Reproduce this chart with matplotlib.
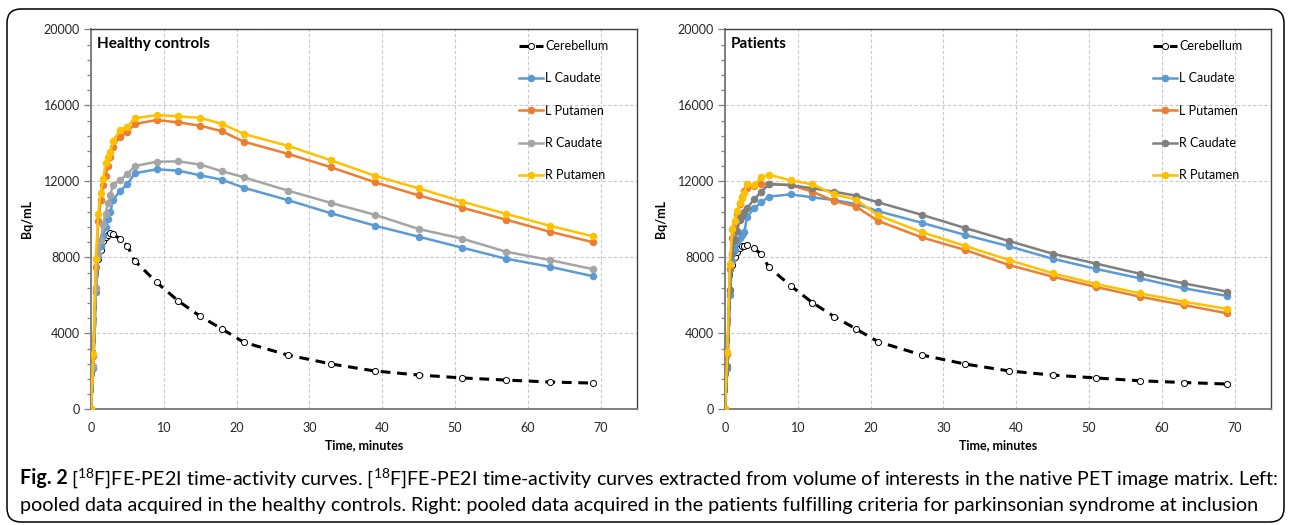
import matplotlib
matplotlib.use("Agg")
import matplotlib.pyplot as plt
from matplotlib.patches import FancyBboxPatch
from matplotlib.transforms import IdentityTransform
from matplotlib.ticker import MultipleLocator

plt.rcParams['font.family'] = ['Lato', 'DejaVu Sans']
plt.rcParams['mathtext.default'] = 'regular'

# === data: frame end times (minutes) and mean activity (Bq/mL) ===
time_min = [0, 0.33, 0.67, 1, 1.33, 1.67, 2, 2.33, 2.67, 3, 4, 5, 6,
            9, 12, 15, 18, 21, 27, 33, 39, 45, 51, 57, 63, 69]

regions = ["Cerebellum", "L Caudate", "L Putamen", "R Caudate", "R Putamen"]

# healthy controls
hc_cerebellum = [0, 2200, 6400, 7900, 8400, 8850, 9080, 9200, 9260, 9230, 8960, 8610, 7820,
                 6685, 5700, 4895, 4225, 3525, 2860, 2385, 2015, 1805, 1650, 1540, 1435, 1380]
hc_l_caudate = [0, 2200, 6200, 8000, 8600, 9100, 9600, 10000, 10400, 11000, 11500, 11850, 12420,
                12630, 12560, 12315, 12085, 11660, 11015, 10315, 9665, 9085, 8505, 7925, 7505, 7000]
hc_l_putamen = [0, 2800, 7500, 9900, 11000, 11800, 12300, 12820, 13290, 13820, 14350, 14580, 15015,
                15225, 15100, 14930, 14630, 14085, 13450, 12735, 11950, 11260, 10610, 9980, 9350, 8790]
hc_r_caudate = [0, 2300, 6400, 8200, 8900, 9700, 10300, 10840, 11280, 11800, 12070, 12380, 12800,
                13030, 13050, 12880, 12530, 12210, 11515, 10860, 10240, 9490, 8980, 8295, 7860, 7370]
hc_r_putamen = [0, 2900, 7900, 10300, 11400, 12100, 12950, 13300, 13560, 14120, 14700, 14870, 15310,
                15490, 15420, 15340, 15020, 14490, 13870, 13100, 12290, 11630, 10930, 10290, 9660, 9100]

# patients
pt_cerebellum = [0, 2200, 6300, 7600, 8000, 8300, 8500, 8600, 8620, 8650, 8470, 8150, 7490,
                 6510, 5615, 4880, 4230, 3560, 2860, 2380, 2020, 1800, 1650, 1500, 1410, 1330]
pt_l_caudate = [0, 2200, 6000, 7800, 8400, 8800, 9000, 9200, 9350, 10100, 10580, 10890, 11190,
                11315, 11155, 11015, 10800, 10430, 9820, 9175, 8580, 7925, 7385, 6895, 6370, 5965]
pt_l_putamen = [0, 2900, 7400, 9000, 9700, 10300, 10800, 11200, 11500, 11650, 11750, 11850, 11880,
                11800, 11455, 10960, 10665, 9920, 9050, 8385, 7595, 6980, 6435, 5925, 5490, 5050]
pt_r_caudate = [0, 2300, 6300, 8200, 8900, 9400, 9950, 10200, 10400, 10580, 11050, 11455, 11840,
                11800, 11630, 11455, 11240, 10895, 10240, 9540, 8860, 8190, 7665, 7135, 6630, 6190]
pt_r_putamen = [0, 3000, 7650, 9500, 9900, 10450, 10850, 11100, 11400, 11840, 11800, 12210, 12350,
                12050, 11840, 11315, 11040, 10215, 9330, 8595, 7860, 7160, 6595, 6105, 5665, 5280]

panels = [
    ("Healthy controls", [hc_cerebellum, hc_l_caudate, hc_l_putamen, hc_r_caudate, hc_r_putamen],
     ['black', '#5B9BD5', '#ED7D31', '#A5A5A5', '#FFC000']),
    ("Patients", [pt_cerebellum, pt_l_caudate, pt_l_putamen, pt_r_caudate, pt_r_putamen],
     ['black', '#5B9BD5', '#ED7D31', '#7F7F7F', '#FFC000']),
]

# === figure ===
W, H = 1290, 525
fig = plt.figure(figsize=(W / 100, H / 100), dpi=100)

# rounded outer frame (pixel coordinates)
frame = FancyBboxPatch((7, 3), 1277, 513, boxstyle="round,pad=0,rounding_size=14",
                       transform=IdentityTransform(), fill=False, edgecolor='black', linewidth=1.1)
fig.patches.append(frame)

axes_left_px = [91, 725]
for (title, series, colors), left_px in zip(panels, axes_left_px):
    ax = fig.add_axes([left_px / W, 1 - 409.3 / H, 546 / W, 380 / H])

    for name, vals, col in zip(regions, series, colors):
        if name == "Cerebellum":
            ax.plot(time_min, vals, color='black', linewidth=2.2, linestyle=(0, (3.2, 2.2)),
                    marker='o', markersize=4.4, markerfacecolor='white',
                    markeredgecolor='black', markeredgewidth=0.7, label=name, zorder=3)
        else:
            ax.plot(time_min, vals, color=col, linewidth=1.8, marker='o', markersize=4.4,
                    markerfacecolor=col, markeredgecolor=col, label=name, zorder=4)

    ax.set_xlim(0, 75)
    ax.set_ylim(0, 20000)
    ax.set_xticks(range(0, 80, 10))
    ax.set_yticks(range(0, 20001, 4000))
    ax.yaxis.set_minor_locator(MultipleLocator(800))
    ax.grid(True, which='major', color='#C8C8C8', linestyle=(0, (3, 2)), linewidth=0.8)
    ax.set_axisbelow(True)

    ax.tick_params(axis='x', length=0, pad=9, labelsize=9, labelcolor='#262626')
    ax.tick_params(axis='y', which='major', length=5, width=0.9, color='#7F7F7F',
                   labelsize=9, labelcolor='#262626', pad=3)
    ax.tick_params(axis='y', which='minor', length=3, width=0.9, color='#7F7F7F')

    for side in ['left', 'bottom']:
        ax.spines[side].set_color('#7F7F7F')
        ax.spines[side].set_linewidth(1.4)
    for side in ['top', 'right']:
        ax.spines[side].set_color('#404040')
        ax.spines[side].set_linewidth(1.0)

    ax.set_xlabel("Time, minutes", fontsize=9, fontweight='bold', labelpad=4)
    ax.set_ylabel("Bq/mL", fontsize=9, fontweight='bold', labelpad=8)

    ax.text(0.011, 0.961, title, transform=ax.transAxes, fontsize=11, fontweight='bold',
            ha='left', va='center')

    ax.legend(loc='upper left', bbox_to_anchor=(0.784, 0.972), frameon=False, fontsize=9,
              labelspacing=1.63, handlelength=1.9, handletextpad=0.2, borderpad=0,
              borderaxespad=0, numpoints=1)

# === caption ===
cap_size = 14.2
fig.text(20 / W, 1 - 478 / H, "Fig. 2", fontsize=cap_size, fontweight='bold', ha='left', va='center')
fig.text(71 / W, 1 - 478 / H,
         "[$^{18}$F]FE-PE2I time-activity curves. [$^{18}$F]FE-PE2I time-activity curves extracted "
         "from volume of interests in the native PET image matrix. Left:",
         fontsize=cap_size, ha='left', va='center')
fig.text(20 / W, 1 - 505 / H,
         "pooled data acquired in the healthy controls. Right: pooled data acquired in the patients "
         "fulfilling criteria for parkinsonian syndrome at inclusion",
         fontsize=cap_size, ha='left', va='center')

fig.savefig("out.png", dpi=100)
